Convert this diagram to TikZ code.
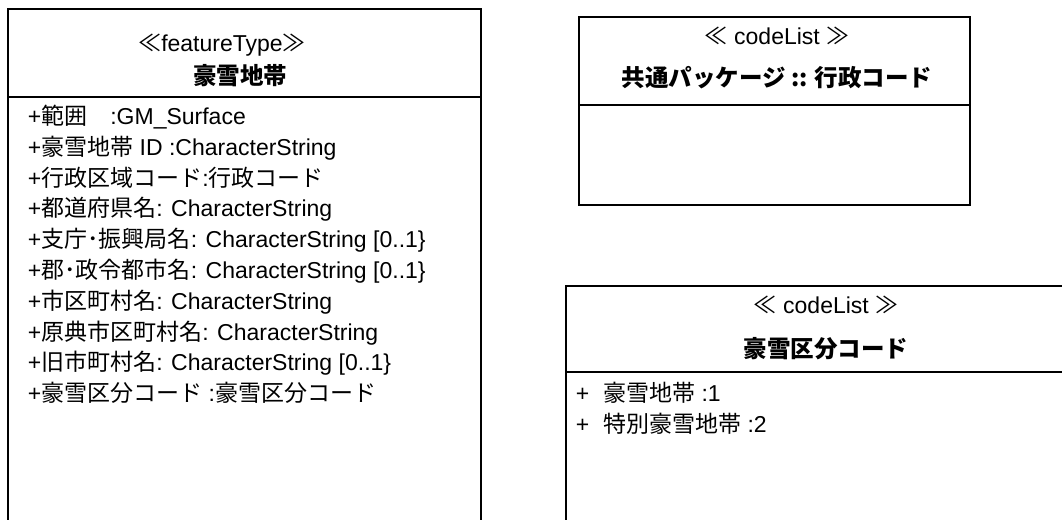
\documentclass[tikz,border=0pt]{standalone}
\usepackage{fontspec}
\setmainfont{Liberation Sans}
\newfontfamily\jpfont{Noto Sans CJK JP}
\newcommand{\ja}[1]{{\jpfont #1}}
\usetikzlibrary{calc}

\begin{document}
\begin{tikzpicture}[x=1pt, y=-1pt, line width=1.8pt,
    attr/.style={anchor=west, inner sep=0pt, text height=17pt, text depth=4pt,
        font=\fontsize{23}{27}\selectfont},
    stereo/.style={inner sep=0pt, text height=17pt, text depth=4pt,
        font=\fontsize{23}{27}\selectfont},
    cname/.style={inner sep=0pt, text height=17pt, text depth=4pt,
        font=\jpfont\bfseries\fontsize{23.5}{27}\selectfont}]
        \def\dy{30.8}

        \useasboundingbox (0,0) rectangle (1062,519);
        \clip (0,0) rectangle (1062,519);

        % featureType
        \coordinate (FA) at (8,9);
        \coordinate (FB) at (481,560);
        \draw (FA) rectangle (FB);
        \draw (8,97) -- (481,97);
        \node[stereo] (ftst) at (222,45) {\ja{≪}featureType\ja{≫}};
        \node[cname] (ftname) at (240,78) {豪雪地帯};

        \node[attr] (a0) at (27,118) {+\ja{範囲　}:GM\_Surface};
        \node[attr] (a1) at ($(a0.west)+(0,\dy)$) {+\ja{豪雪地帯} ID :CharacterString};
        \node[attr] (a2) at ($(a1.west)+(0,\dy)$) {+\ja{行政区域コード}:\ja{行政コード}};
        \node[attr] (a3) at ($(a2.west)+(0,\dy)$) {+\ja{都道府県名}: CharacterString};
        \node[attr] (a4) at ($(a3.west)+(0,\dy)$) {+\ja{支庁･振興局名}: CharacterString [0..1\}};
        \node[attr] (a5) at ($(a4.west)+(0,\dy)$) {+\ja{郡･政令都市名}: CharacterString [0..1\}};
        \node[attr] (a6) at ($(a5.west)+(0,\dy)$) {+\ja{市区町村名}: CharacterString};
        \node[attr] (a7) at ($(a6.west)+(0,\dy)$) {+\ja{原典市区町村名}: CharacterString};
        \node[attr] (a8) at ($(a7.west)+(0,\dy)$) {+\ja{旧市町村名}: CharacterString [0..1\}};
        \node[attr] (a9) at ($(a8.west)+(0,\dy)$) {+\ja{豪雪区分コード} :\ja{豪雪区分コード}};

        % codeList (common package)
        \draw (579,17) rectangle (970,205);
        \draw (579,105) -- (970,105);
        \node[stereo] (clst) at (777,38) {\ja{≪} codeList \ja{≫}};
        \node[cname] (clname) at (777,80) {共通パッケージ :: 行政コード};

        % codeList (snow class)
        \draw (566,286) rectangle (1090,560);
        \draw (566,372) -- (1090,372);
        \node[stereo] (csst) at (826,307) {\ja{≪} codeList \ja{≫}};
        \node[cname] (csname) at (826,351) {豪雪区分コード};
        \node[attr] (c0) at (575,395) {+\hspace{0.6em}\ja{豪雪地帯} :1};
        \node[attr] (c1) at ($(c0.west)+(0,\dy)$) {+\hspace{0.6em}\ja{特別豪雪地帯} :2};
\end{tikzpicture}
\end{document}
